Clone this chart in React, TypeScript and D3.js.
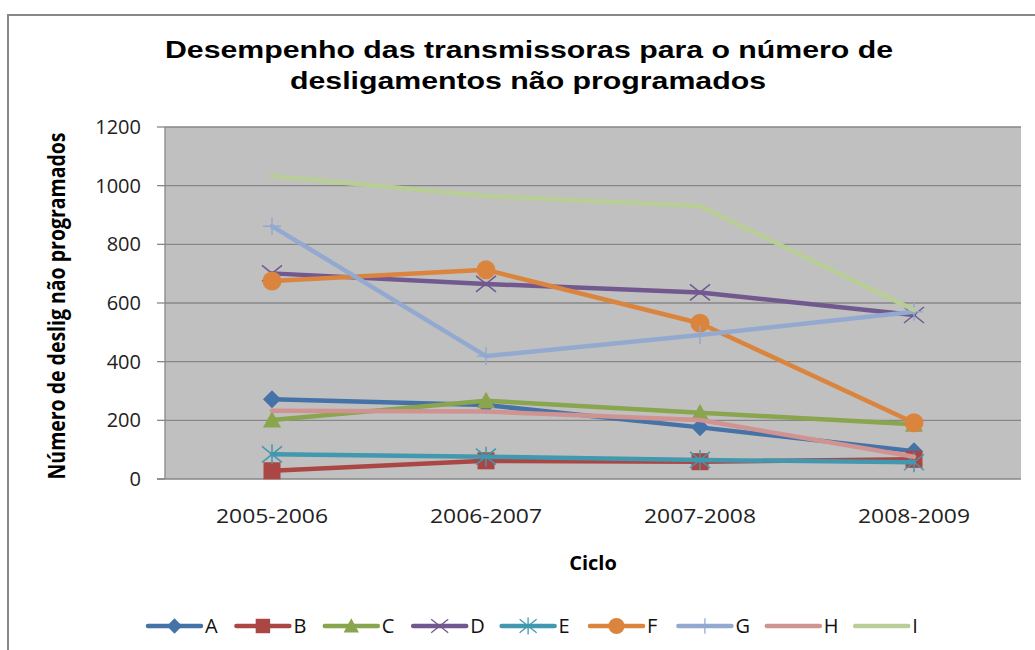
import React from "react";
import * as d3 from "d3";

const categories = ["2005-2006", "2006-2007", "2007-2008", "2008-2009"];
const seriesNames = ["A", "B", "C", "D", "E", "F", "G", "H", "I"];
const valuesA = [272, 252, 176, 95];
const valuesB = [28, 62, 59, 67];
const valuesC = [201, 267, 226, 187];
const valuesD = [701, 665, 636, 559];
const valuesE = [84, 76, 65, 57];
const valuesF = [675, 713, 531, 192];
const valuesG = [862, 419, 491, 570];
const valuesH = [233, 230, 201, 76];
const valuesI = [1033, 965, 931, 576];
const yTicks = [0, 200, 400, 600, 800, 1000, 1200];

const colors = ["#4572A7", "#AA4643", "#89A54E", "#71588F", "#4198AF", "#DB843D", "#93A9CF", "#D19392", "#B9CD96"];
const markers = ["diamond", "square", "triangle", "x", "star", "circle", "plus", "none", "none"];
const allValues = [valuesA, valuesB, valuesC, valuesD, valuesE, valuesF, valuesG, valuesH, valuesI];

const W = 1035, H = 650;
const L = 165, R = 1021, T = 127, B = 479;

function Marker({ type, x, y, color, s = 1 }: { type: string; x: number; y: number; color: string; s?: number }) {
  const t = `translate(${x},${y}) scale(${s})`;
  switch (type) {
    case "diamond":
      return <path transform={t} d="M0,-9L9,0L0,9L-9,0Z" fill={color} />;
    case "square":
      return <rect transform={t} x={-8.5} y={-8.5} width={17} height={17} fill={color} />;
    case "triangle":
      return <path transform={t} d="M0,-9L9,7.5L-9,7.5Z" fill={color} />;
    case "circle":
      return <circle transform={t} r={9.5} fill={color} />;
    case "x":
      return <path transform={t} d="M-10,-8L10,8M-10,8L10,-8" stroke={color} strokeWidth={1.5} fill="none" />;
    case "star":
      return <path transform={t} d="M-10,-8L10,8M-10,8L10,-8M0,-10L0,10" stroke={color} strokeWidth={1.5} fill="none" />;
    case "plus":
      return <path transform={t} d="M-9,0L9,0M0,-9L0,9" stroke={color} strokeWidth={1.5} fill="none" />;
    default:
      return null;
  }
}

export default function App() {
  const x = d3.scalePoint<string>().domain(categories).range([L, R]).padding(0.5);
  const y = d3.scaleLinear().domain([0, 1200]).range([B, T]);
  const line = d3.line<number>().x((_, i) => x(categories[i])!).y((v) => y(v));
  const legendStart = 148;
  const legendStep = 88.4;
  const legendY = 626;

  return (
    <svg width={W} height={H} style={{ position: "absolute", left: 0, top: 0, background: "#fff" }}>
      <rect x={8} y={15} width={1100} height={700} fill="#fff" stroke="#888" strokeWidth={2} />
      <text x={529} y={58} textAnchor="middle" fontFamily="Liberation Sans, Arial" fontWeight="bold" fontSize={23} textLength={728} lengthAdjust="spacingAndGlyphs" fill="#000">
        Desempenho das transmissoras para o número de
      </text>
      <text x={528} y={89} textAnchor="middle" fontFamily="Liberation Sans, Arial" fontWeight="bold" fontSize={23} textLength={476} lengthAdjust="spacingAndGlyphs" fill="#000">
        desligamentos não programados
      </text>

      <rect x={L} y={T} width={R - L} height={B - T} fill="#C0C0C0" />
      {yTicks.map((t) => (
        <g key={t}>
          {t > 0 && <line x1={L} x2={R} y1={y(t)} y2={y(t)} stroke="#878787" strokeWidth={1.3} />}
          <line x1={157} x2={L} y1={y(t)} y2={y(t)} stroke="#878787" strokeWidth={1.3} />
          <text x={141} y={y(t)} dy="0.35em" textAnchor="end" fontFamily="Open Sans" fontSize={20} fill="#222">
            {t}
          </text>
        </g>
      ))}
      <line x1={L} x2={L} y1={T} y2={B} stroke="#878787" strokeWidth={1.3} />
      <line x1={157} x2={R} y1={B} y2={B} stroke="#878787" strokeWidth={1.3} />

      {categories.map((c) => (
        <text key={c} x={x(c)} y={523} textAnchor="middle" fontFamily="Open Sans" fontSize={20} textLength={112} lengthAdjust="spacingAndGlyphs" fill="#222">
          {c}
        </text>
      ))}
      <text x={593} y={570} textAnchor="middle" fontFamily="Open Sans" fontWeight="bold" fontSize={20} fill="#000">
        Ciclo
      </text>
      <text transform="translate(65,306) rotate(-90) scale(1,1.25)" textAnchor="middle" fontFamily="Open Sans" fontWeight="bold" fontSize={18} textLength={347} lengthAdjust="spacingAndGlyphs" fill="#000">
        Número de deslig não programados
      </text>

      {allValues.map((vals, si) => (
        <g key={seriesNames[si]}>
          <path d={line(vals)!} fill="none" stroke={colors[si]} strokeWidth={4.5} strokeLinejoin="round" strokeLinecap="round" />
          {vals.map((v, i) => (
            <Marker key={i} type={markers[si]} x={x(categories[i])!} y={y(v)} color={colors[si]} />
          ))}
        </g>
      ))}

      {seriesNames.map((n, si) => {
        const lx = legendStart + si * legendStep;
        return (
          <g key={n}>
            <line x1={lx} x2={lx + 53} y1={legendY} y2={legendY} stroke={colors[si]} strokeWidth={4.5} strokeLinecap="round" />
            <Marker type={markers[si]} x={lx + 26.5} y={legendY} color={colors[si]} s={0.85} />
            <text x={lx + 57} y={legendY} dy="0.36em" fontFamily="Open Sans" fontSize={20} fill="#111">
              {n}
            </text>
          </g>
        );
      })}
    </svg>
  );
}
